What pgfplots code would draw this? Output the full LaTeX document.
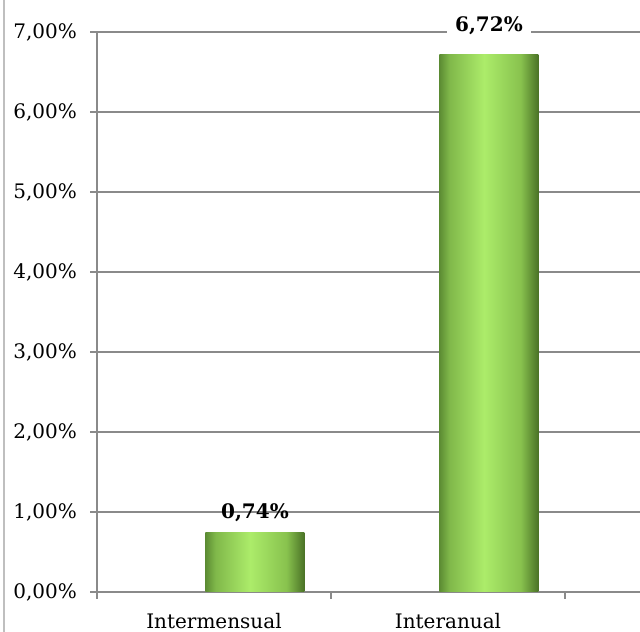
\documentclass[border=0pt]{standalone}
\usepackage{pgfplots}
\pgfplotsset{compat=1.18}
\usepackage{fontspec}
\setmainfont{DejaVu Serif}
\definecolor{gridc}{HTML}{8A8A8A}
\definecolor{gA}{HTML}{5C8C33}
\definecolor{gB}{HTML}{80B84A}
\definecolor{gC}{HTML}{ACEC6A}
\definecolor{gD}{HTML}{88C24E}
\definecolor{gE}{HTML}{4A7226}
\pgfdeclarehorizontalshading{barshade}{100bp}{color(0bp)=(gA); color(25bp)=(gA); color(30bp)=(gB); color(47.5bp)=(gC); color(66bp)=(gD); color(75bp)=(gE); color(100bp)=(gE)}
\begin{document}
\begin{tikzpicture}
\draw[color=black!25, line width=1.5pt] (3pt,0pt) -- (3pt,474pt);
\begin{axis}[
  at={(72.75pt,30pt)}, anchor=south west,
  scale only axis, width=407.25pt, height=420pt,
  xmin=0, xmax=2.3205, ymin=0, ymax=7,
  axis lines*=left,
  axis line style={gridc, line width=1.1pt},
  tick style={gridc, line width=1.1pt},
  tick align=outside,
  major tick length=5pt,
  ytick={0,1,2,3,4,5,6,7},
  yticklabels={{0,00\%},{1,00\%},{2,00\%},{3,00\%},{4,00\%},{5,00\%},{6,00\%},{7,00\%}},
  ymajorgrids,
  grid style={gridc, line width=1.1pt},
  xtick={0,1,2,3},
  x tick label as interval,
  xticklabels={Intermensual,Interanual,{}},
  ticklabel style={font=\fontsize{15}{18}\selectfont, text=black},
  yticklabel style={xshift=-6.5pt},
  xticklabel style={yshift=-7.5pt},
  clip=false,
]
\addplot[ybar, bar width=0.423, bar shift=0pt, draw=none, shading=barshade]
  coordinates {(0.675,0.74)};
\addplot[ybar, bar width=0.423, bar shift=0pt, draw=none, shading=barshade]
  coordinates {(1.675,6.72)};
\addplot[draw=none, mark=none, nodes near coords={\bfseries 0,74\%},
  every node near coord/.style={anchor=base, yshift=10.5pt, text=black,
    font=\fontsize{15}{18}\selectfont}]
  coordinates {(0.675,0.74)};
\addplot[draw=none, mark=none, nodes near coords={\bfseries 6,72\%},
  every node near coord/.style={anchor=base, yshift=17.25pt, text=black,
    fill=white, inner xsep=6pt, inner ysep=3pt,
    font=\fontsize{15}{18}\selectfont}]
  coordinates {(1.675,6.72)};
\end{axis}
\pgfresetboundingbox
\useasboundingbox (0pt,0pt) rectangle (480pt,474pt);
\end{tikzpicture}
\end{document}
